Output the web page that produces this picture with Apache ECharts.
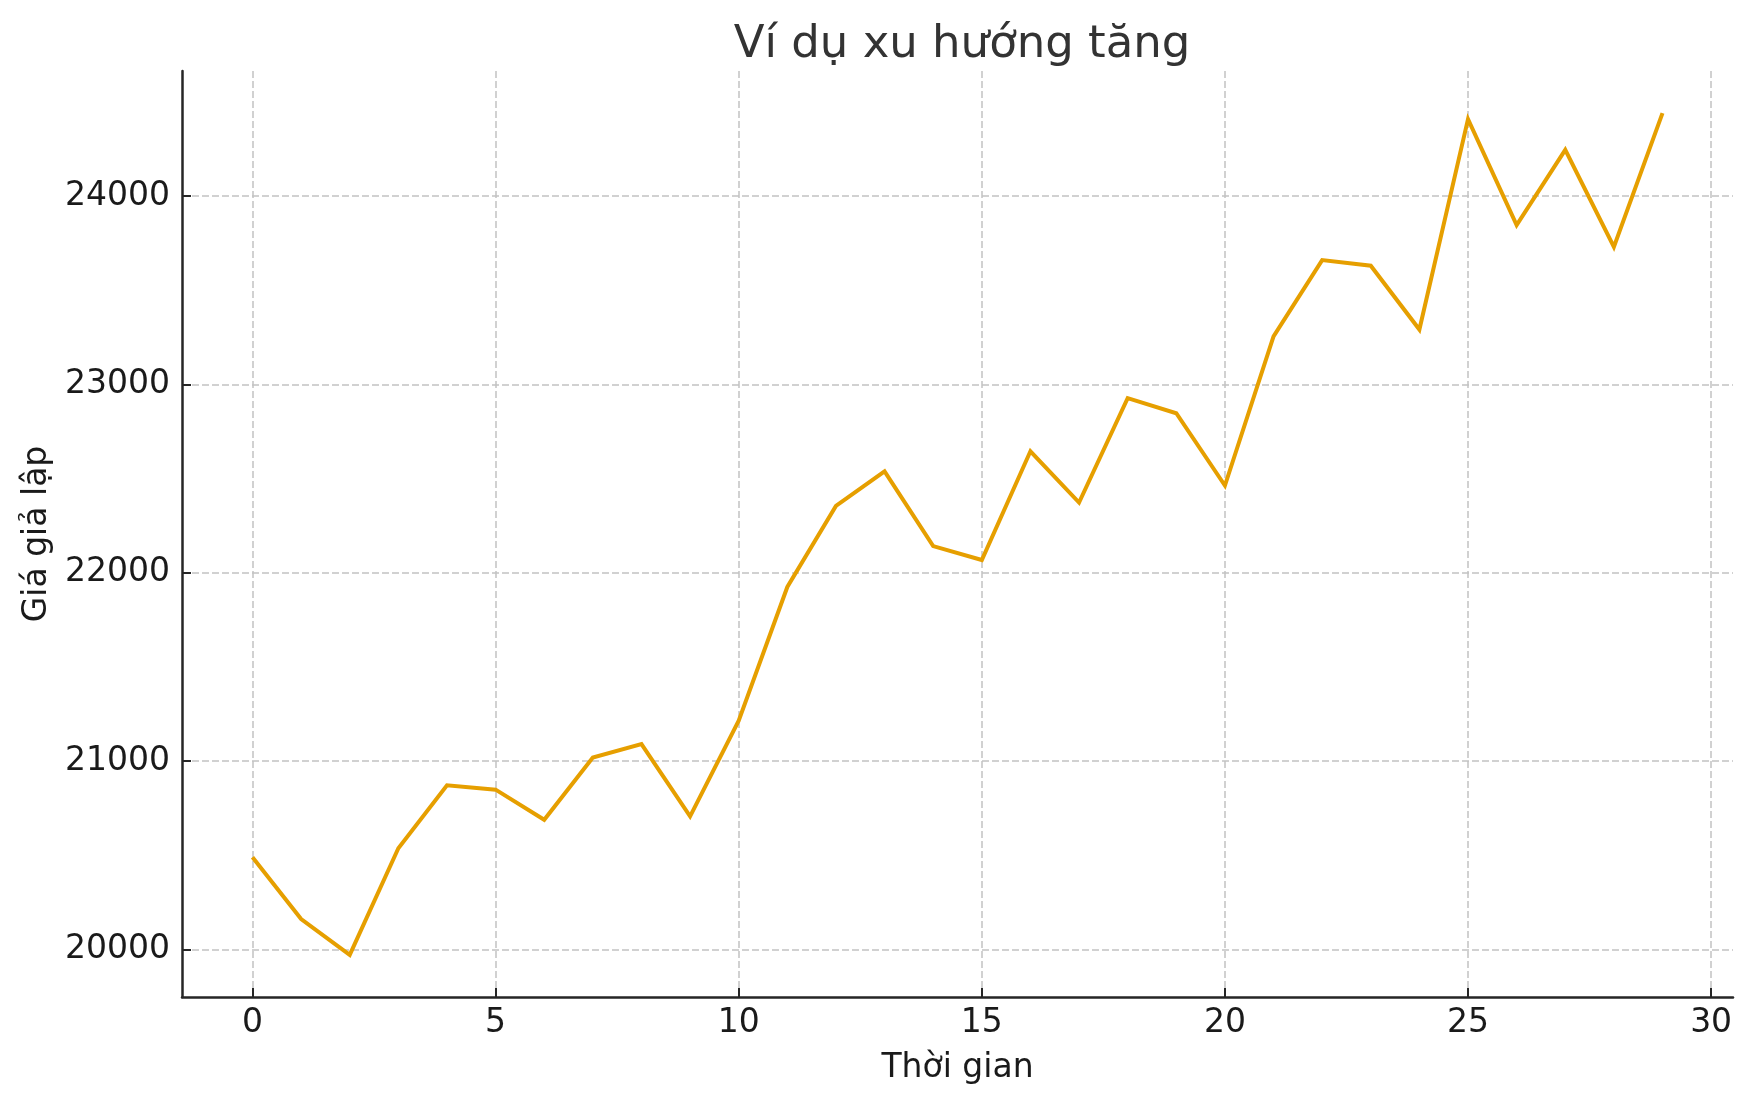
<!DOCTYPE html>
<html>
<head>
<meta charset="utf-8">
<script src="https://cdn.jsdelivr.net/npm/echarts@6/dist/echarts.min.js"></script>
<style>
  html, body { margin: 0; padding: 0; background: #fff; }
  #chart { width: 1752px; height: 1105px; }
</style>
</head>
<body>
<div id="chart"></div>
<script>
// time steps and simulated prices
const timeSteps = [0, 1, 2, 3, 4, 5, 6, 7, 8, 9, 10, 11, 12, 13, 14, 15, 16, 17, 18, 19, 20, 21, 22, 23, 24, 25, 26, 27, 28, 29];
const prices = [
  20490, 20162, 19972, 20538, 20872, 20849, 20689, 21020, 21091, 20707,
  21215, 21925, 22355, 22538, 22142, 22068, 22645, 22373, 22927, 22847,
  22463, 23255, 23660, 23630, 23291, 24408, 23846, 24245, 23730, 24440
];
const xTickStep = 5;
const yTickStep = 1000;

const titleText = 'Ví dụ xu hướng tăng';
const xName = 'Thời gian';
const yName = 'Giá giả lập';

// matplotlib-like 5% margins around the data
function padded(values) {
  const lo = Math.min(...values), hi = Math.max(...values);
  const pad = (hi - lo) * 0.05;
  return [lo - pad, hi + pad];
}
const xRange = padded(timeSteps);
const yRange = padded(prices);

const font = 'DejaVu Sans';
const chart = echarts.init(document.getElementById('chart'));

const axisCommon = {
  type: 'value',
  nameLocation: 'middle',
  nameTextStyle: { fontFamily: font, fontSize: 33, color: '#1a1a1a' },
  axisLine: { show: true, onZero: false, lineStyle: { color: '#262626', width: 2.5 } },
  axisTick: { show: true, inside: true, length: 9, lineStyle: { color: '#262626', width: 2 } },
  splitLine: {
    show: true,
    showMinLine: false,
    showMaxLine: false,
    lineStyle: { color: '#c2c2c2', width: 1.5, type: [7, 3] }
  }
};

const option = {
  backgroundColor: '#ffffff',
  animation: false,
  title: {
    text: titleText,
    left: 957,
    textAlign: 'center',
    top: 18,
    textStyle: { fontFamily: font, fontSize: 45, fontWeight: 'normal', color: '#333333' }
  },
  grid: { left: 182, right: 19, top: 71, bottom: 108, containLabel: false },
  xAxis: Object.assign({}, axisCommon, {
    min: xRange[0],
    max: xRange[1],
    splitNumber: 6,
    name: xName,
    nameGap: 55,
    axisLabel: {
      fontFamily: font, fontSize: 33, color: '#1a1a1a', margin: 10,
      showMinLabel: false, showMaxLabel: false,
      formatter: v => (Math.abs(v % xTickStep) < 1e-9 ? String(v) : '')
    }
  }),
  yAxis: Object.assign({}, axisCommon, {
    min: yRange[0],
    max: yRange[1],
    splitNumber: 5,
    name: yName,
    nameGap: 128,
    nameRotate: 90,
    axisLabel: {
      fontFamily: font, fontSize: 33, color: '#1a1a1a', margin: 12,
      showMinLabel: false, showMaxLabel: false,
      formatter: v => (Math.abs(v % yTickStep) < 1e-9 ? String(v) : '')
    }
  }),
  series: [{
    type: 'line',
    data: timeSteps.map((t, i) => [t, prices[i]]),
    showSymbol: false,
    lineStyle: { color: '#E69F00', width: 4, join: 'miter' },
    itemStyle: { color: '#E69F00' }
  }]
};

chart.setOption(option);
</script>
</body>
</html>
